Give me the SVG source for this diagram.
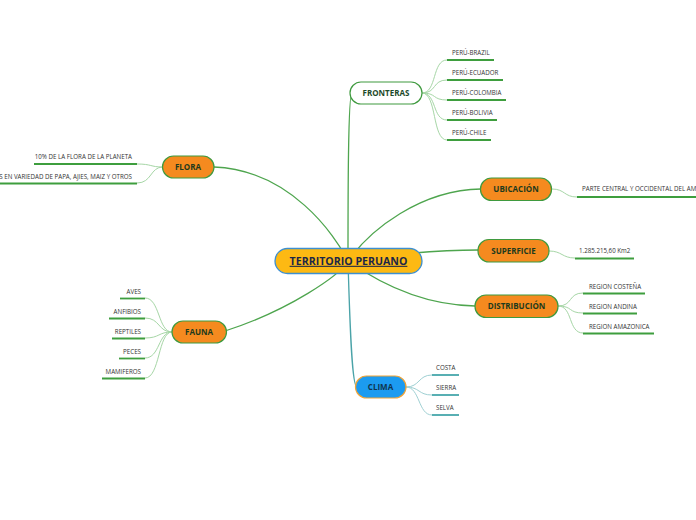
<svg xmlns="http://www.w3.org/2000/svg" width="696" height="520" viewBox="0 0 696 520">
<style>
.main{fill:none;stroke:#4ea54e;stroke-width:1.3}
.teal{fill:none;stroke:#4aa3a8;stroke-width:1.3}
.sub{fill:none;stroke:#a6d6a6;stroke-width:1}
.subt{fill:none;stroke:#9fd0d3;stroke-width:1}
.ul{stroke:#3e9e3e;stroke-width:1.8}
.ult{stroke:#46a6ab;stroke-width:1.8}
.leaf{font-family:"Open Sans","Liberation Sans",sans-serif;font-size:6.2px;fill:#333}
.lbl{font-family:"Open Sans","Liberation Sans",sans-serif;font-size:8px;font-weight:bold;text-anchor:middle}
.orange{fill:#f58a1f;stroke:#3f9a3f;stroke-width:1.2}
</style>
<rect width="696" height="520" fill="#fff"/>
<g id="connectors">
<path class="main" d="M348,261 C348,200 348,93 352,93"/>
<path class="main" d="M348,261 C335,235 290,170 214,167"/>
<path class="main" d="M348,261 C370,230 420,190 481,189"/>
<path class="main" d="M348,261 C380,255 440,250 478,250"/>
<path class="main" d="M348,261 C375,280 420,305 475,306"/>
<path class="main" d="M348,261 C340,275 290,310 225,331"/>
<path class="teal" d="M348,261 C350,330 352,387 357,387"/>
<path class="sub" d="M422,93 C437,93 432,60 447,60"/>
<path class="sub" d="M422,93 C437,93 432,80 447,80"/>
<path class="sub" d="M422,93 C437,93 432,100 447,100"/>
<path class="sub" d="M422,93 C437,93 432,120 447,120"/>
<path class="sub" d="M422,93 C437,93 432,140 447,140"/>
<path class="sub" d="M163,167 C150,167 152,164 137,164"/>
<path class="sub" d="M163,167 C150,167 152,183 137,183"/>
<path class="sub" d="M552,189 C565,189 564,197 577,197"/>
<path class="sub" d="M549,251 C562,251 562,258 575,258"/>
<path class="sub" d="M558,306 C573,306 568,293 583,293"/>
<path class="sub" d="M558,306 C573,306 568,313 583,313"/>
<path class="sub" d="M558,306 C573,306 568,333 583,333"/>
<path class="sub" d="M172,332 C158,332 160,298 145,298"/>
<path class="sub" d="M172,332 C158,332 160,318 145,318"/>
<path class="sub" d="M172,332 C158,332 160,338 145,338"/>
<path class="sub" d="M172,332 C158,332 160,358 145,358"/>
<path class="sub" d="M172,332 C158,332 160,378 145,378"/>
<path class="subt" d="M406,387 C420,387 418,375 432,375"/>
<path class="subt" d="M406,387 C420,387 418,395 432,395"/>
<path class="subt" d="M406,387 C420,387 418,415 432,415"/>
</g>
<g id="central">
<rect x="275" y="248.5" width="147" height="25" rx="12.5" fill="#fdb913" stroke="#3d8fd0" stroke-width="1.3"/>
<text x="348.5" y="264.8" font-family="'Open Sans','Liberation Sans',sans-serif" font-size="10.6" font-weight="bold" fill="#1c2748" text-anchor="middle" text-decoration="underline">TERRITORIO PERUANO</text>
</g>
<g id="fronteras">
<rect x="350" y="82" width="72" height="22" rx="11" fill="#fff" stroke="#3f9a3f" stroke-width="1.2"/>
<text class="lbl" x="386" y="96" fill="#1d4a2a">FRONTERAS</text>
<line class="ul" x1="447" y1="60" x2="494" y2="60"/><text class="leaf" x="452" y="55">PERÚ-BRAZIL</text>
<line class="ul" x1="447" y1="80" x2="503" y2="80"/><text class="leaf" x="452" y="75">PERÚ-ECUADOR</text>
<line class="ul" x1="447" y1="100" x2="506" y2="100"/><text class="leaf" x="452" y="95">PERÚ-COLOMBIA</text>
<line class="ul" x1="447" y1="120" x2="497" y2="120"/><text class="leaf" x="452" y="115">PERÚ-BOLIVIA</text>
<line class="ul" x1="447" y1="140" x2="491" y2="140"/><text class="leaf" x="452" y="135">PERÚ-CHILE</text>
</g>
<g id="flora">
<rect class="orange" x="162.5" y="156" width="51.5" height="22" rx="11"/>
<text class="lbl" x="188" y="170" fill="#1d3a1d">FLORA</text>
<line class="ul" x1="34" y1="164" x2="137" y2="164"/><text class="leaf" x="132" y="159" text-anchor="end">10% DE LA FLORA DE LA PLANETA</text>
<line class="ul" x1="0" y1="183.5" x2="137" y2="183.5"/><text class="leaf" x="132" y="178.5" text-anchor="end">S EN VARIEDAD DE PAPA, AJIES, MAIZ Y OTROS</text>
</g>
<g id="ubicacion">
<rect class="orange" x="480.5" y="178" width="71" height="22.5" rx="11"/>
<text class="lbl" x="516" y="192" fill="#1d3a1d">UBICACIÓN</text>
<line class="ul" x1="577" y1="197" x2="696" y2="197"/><text class="leaf" x="582" y="191">PARTE CENTRAL Y OCCIDENTAL DEL AMÉRICA</text>
</g>
<g id="superficie">
<rect class="orange" x="478" y="239.5" width="71" height="22.5" rx="11"/>
<text class="lbl" x="513.5" y="253.5" fill="#1d3a1d">SUPERFICIE</text>
<line class="ul" x1="575" y1="258.5" x2="634" y2="258.5"/><text class="leaf" x="579" y="253">1.285.215,60 Km2</text>
</g>
<g id="distribucion">
<rect class="orange" x="475" y="295" width="83" height="22.5" rx="11"/>
<text class="lbl" x="516.5" y="309" fill="#1d3a1d">DISTRIBUCIÓN</text>
<line class="ul" x1="583" y1="293.5" x2="645" y2="293.5"/><text class="leaf" x="589" y="288.5">REGION COSTEÑA</text>
<line class="ul" x1="583" y1="313.5" x2="637" y2="313.5"/><text class="leaf" x="589" y="308.5">REGION ANDINA</text>
<line class="ul" x1="583" y1="333.5" x2="654" y2="333.5"/><text class="leaf" x="589" y="328.5">REGION AMAZONICA</text>
</g>
<g id="fauna">
<rect class="orange" x="172" y="321" width="54.5" height="22" rx="11"/>
<text class="lbl" x="199" y="335" fill="#1d3a1d">FAUNA</text>
<line class="ul" x1="120" y1="298.5" x2="145" y2="298.5"/><text class="leaf" x="141" y="293.5" text-anchor="end">AVES</text>
<line class="ul" x1="109" y1="318.5" x2="145" y2="318.5"/><text class="leaf" x="141" y="313.5" text-anchor="end">ANFIBIOS</text>
<line class="ul" x1="112" y1="338.5" x2="145" y2="338.5"/><text class="leaf" x="141" y="333.5" text-anchor="end">REPTILES</text>
<line class="ul" x1="119" y1="358.5" x2="145" y2="358.5"/><text class="leaf" x="141" y="353.5" text-anchor="end">PECES</text>
<line class="ul" x1="102" y1="378.5" x2="145" y2="378.5"/><text class="leaf" x="141" y="373.5" text-anchor="end">MAMIFEROS</text>
</g>
<g id="clima">
<rect x="355.5" y="376" width="50.5" height="22" rx="11" fill="#1c9bf0" stroke="#f0a336" stroke-width="1.2"/>
<text class="lbl" x="380.5" y="390" fill="#0f3550">CLIMA</text>
<line class="ult" x1="432" y1="375" x2="459" y2="375"/><text class="leaf" x="436" y="370">COSTA</text>
<line class="ult" x1="432" y1="395" x2="459" y2="395"/><text class="leaf" x="436" y="390">SIERRA</text>
<line class="ult" x1="432" y1="415" x2="459" y2="415"/><text class="leaf" x="436" y="410">SELVA</text>
</g>
</svg>
